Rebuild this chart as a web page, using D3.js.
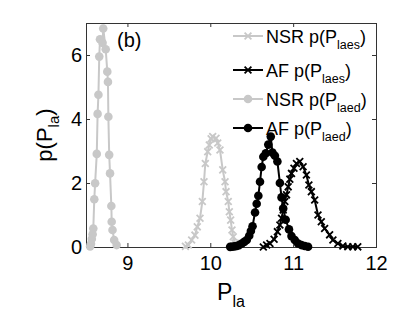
<!DOCTYPE html>
<html>
  <head>
    <script src="https://cdn.jsdelivr.net/npm/d3@7"></script>
    <style>
      body { margin: 0; background: #fff; }
      text { font-family: "Liberation Sans", Arial, sans-serif; }
    </style>
  </head>
  <body>
    <svg width="415" height="313" id="mainsvg"></svg>
    <script>
      // data: [P_la, p(P_la)]
      const nsrLaes = [
        [9.70, 0.02], [9.735, 0.06], [9.775, 0.22], [9.815, 0.37], [9.843, 0.63], [9.876, 0.9],
        [9.904, 1.42], [9.924, 2.04], [9.94, 2.61], [9.969, 2.98], [9.988, 3.19], [10.01, 3.38],
        [10.029, 3.45], [10.069, 3.4], [10.09, 3.25], [10.117, 3.03], [10.15, 2.41], [10.178, 2.04],
        [10.19, 1.73], [10.217, 1.42], [10.23, 1.1], [10.246, 0.84], [10.262, 0.53], [10.277, 0.32],
        [10.30, 0.12], [10.33, 0.03]
      ];
      const afLaes = [
        [10.64, 0.0], [10.68, 0.06], [10.72, 0.11], [10.77, 0.24], [10.81, 0.48], [10.84, 0.69],
        [10.86, 0.9], [10.88, 1.16], [10.9, 1.42], [10.92, 1.63], [10.94, 1.88], [10.96, 2.12],
        [10.98, 2.3], [11.01, 2.46], [11.04, 2.61], [11.08, 2.67], [11.12, 2.51], [11.16, 2.25],
        [11.19, 1.94], [11.22, 1.73], [11.26, 1.47], [11.3, 1.0], [11.34, 0.79], [11.38, 0.58],
        [11.44, 0.38], [11.48, 0.22], [11.54, 0.11], [11.6, 0.03], [11.66, 0.01], [11.72, 0.01],
        [11.78, 0.005]
      ];
      const nsrLaed = [
        [8.55, 0.02], [8.56, 0.1], [8.57, 0.25], [8.58, 0.4], [8.588, 0.58], [8.60, 1.49],
        [8.61, 1.99], [8.63, 2.91], [8.64, 4.16], [8.65, 4.76], [8.66, 5.95], [8.669, 6.49],
        [8.70, 6.38], [8.708, 6.83], [8.738, 6.18], [8.757, 5.48], [8.765, 5.16], [8.77, 4.07],
        [8.78, 2.88], [8.79, 2.3], [8.806, 1.28], [8.81, 0.79], [8.82, 0.53], [8.84, 0.22],
        [8.87, 0.06]
      ];
      const afLaed = [
        [10.24, 0.005], [10.26, 0.01], [10.29, 0.02], [10.32, 0.03], [10.35, 0.06], [10.38, 0.11],
        [10.41, 0.16], [10.44, 0.22], [10.47, 0.35], [10.49, 0.5], [10.51, 0.65], [10.54, 1.08],
        [10.56, 1.35], [10.58, 1.6], [10.6, 2.04], [10.62, 2.5], [10.64, 2.82], [10.67, 2.93],
        [10.70, 3.2], [10.73, 3.45], [10.75, 2.95], [10.78, 2.85], [10.81, 2.67], [10.84, 2.0],
        [10.86, 1.55], [10.88, 1.2], [10.91, 0.85], [10.95, 0.55], [10.98, 0.34], [11.02, 0.22],
        [11.06, 0.11], [11.1, 0.06], [11.14, 0.03], [11.18, 0.01]
      ];
      const xTicks = [9, 10, 11, 12];
      const yTicks = [0, 2, 4, 6];

      const series = [
        { data: nsrLaes, color: "#c8c8c8", marker: "x", name: "NSR p(P", sub: "laes" },
        { data: afLaes, color: "#000", marker: "x", name: "AF p(P", sub: "laes" },
        { data: nsrLaed, color: "#c8c8c8", marker: "o", name: "NSR p(P", sub: "laed" },
        { data: afLaed, color: "#000", marker: "o", name: "AF p(P", sub: "laed" }
      ];

      const svg = d3.select("#mainsvg");
      const margin = { left: 86, top: 23, right: 39, bottom: 66 };
      const innerWidth = 415 - margin.left - margin.right;
      const innerHeight = 313 - margin.top - margin.bottom;
      const g = svg.append("g").attr("transform", `translate(${margin.left},${margin.top})`);

      const x = d3.scaleLinear().domain([8.5, 12]).range([0, innerWidth]);
      const y = d3.scaleLinear().domain([0, 7]).range([innerHeight, 0]);

      // axes, ticks pointing inward on all four sides
      const axisColor = "#333";
      const styleAxis = (sel) => {
        sel.select(".domain").remove();
        sel.selectAll("line").attr("stroke", axisColor);
        sel.selectAll("text").attr("font-size", 20).attr("fill", "#000");
      };
      const noLabels = (sel) => sel.selectAll("text").remove();
      g.append("g").attr("transform", `translate(0,${innerHeight})`)
        .call(d3.axisBottom(x).tickValues(xTicks).tickSize(-4).tickPadding(9).tickFormat(d3.format("d")))
        .call(styleAxis);
      g.append("g")
        .call(d3.axisTop(x).tickValues(xTicks).tickSize(-4))
        .call(styleAxis).call(noLabels);
      g.append("g")
        .call(d3.axisLeft(y).tickValues(yTicks).tickSize(-4).tickPadding(4).tickFormat(d3.format("d")))
        .call(styleAxis);
      g.append("g").attr("transform", `translate(${innerWidth},0)`)
        .call(d3.axisRight(y).tickValues(yTicks).tickSize(-4))
        .call(styleAxis).call(noLabels);
      g.append("rect").attr("x", 0.5).attr("y", 0.5)
        .attr("width", innerWidth).attr("height", innerHeight)
        .attr("fill", "none").attr("stroke", axisColor).attr("stroke-width", 1);

      const line = d3.line().x((d) => x(d[0])).y((d) => y(d[1]));

      function drawMarker(sel, s, px, py) {
        if (s.marker === "o") {
          sel.append("circle").attr("cx", px).attr("cy", py).attr("r", 4.3).attr("fill", s.color);
        } else {
          const r = 3.4;
          sel.append("path")
            .attr("d", `M${px - r},${py - r}L${px + r},${py + r}M${px - r},${py + r}L${px + r},${py - r}`)
            .attr("stroke", s.color).attr("stroke-width", 1.8).attr("fill", "none");
        }
      }

      series.forEach((s) => {
        const sg = g.append("g");
        sg.append("path").datum(s.data).attr("d", line)
          .attr("fill", "none").attr("stroke", s.color).attr("stroke-width", 2);
        s.data.forEach((d) => drawMarker(sg, s, x(d[0]), y(d[1])));
      });

      // panel label
      svg.append("text").attr("x", 117).attr("y", 47).attr("font-size", 20).text("(b)");

      // legend
      const legendY = [36, 70, 99, 128];
      series.forEach((s, i) => {
        const lg = svg.append("g").attr("transform", `translate(233,${legendY[i]})`);
        lg.append("line").attr("x1", 0).attr("x2", 30).attr("y1", 0).attr("y2", 0)
          .attr("stroke", s.color).attr("stroke-width", 2);
        drawMarker(lg, s, 15, 0);
        const t = lg.append("text").attr("x", 33).attr("y", 7).attr("font-size", 18);
        t.append("tspan").text(s.name);
        t.append("tspan").attr("font-size", 12.5).attr("dy", 6).text(s.sub);
        t.append("tspan").attr("dy", -6).text(")");
      });

      // axis labels
      const xl = svg.append("text").attr("x", margin.left + innerWidth / 2).attr("y", 300)
        .attr("text-anchor", "middle").attr("font-size", 23);
      xl.append("tspan").text("P");
      xl.append("tspan").attr("font-size", 16).attr("dy", 7).text("la");

      const yl = svg.append("text").attr("transform", `translate(52,${margin.top + innerHeight / 2}) rotate(-90)`)
        .attr("text-anchor", "middle").attr("font-size", 22);
      yl.append("tspan").text("p(P");
      yl.append("tspan").attr("font-size", 15).attr("dy", 7).text("la");
      yl.append("tspan").attr("dy", -7).text(")");
    </script>
  </body>
</html>
